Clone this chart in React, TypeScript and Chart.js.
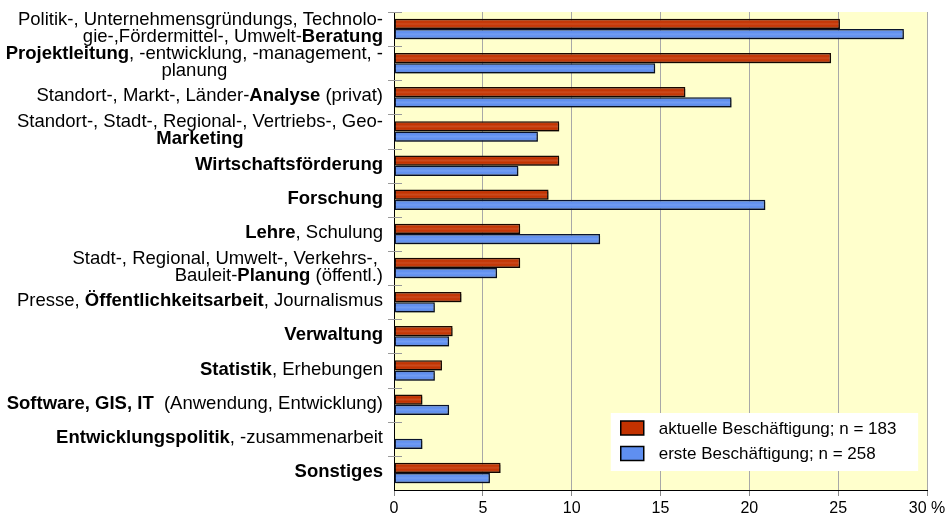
import React, { useEffect, useRef } from "react";
import { Chart, registerables } from "chart.js";

Chart.register(...registerables);

// Category labels: "|" separates lines, **...** marks bold text
const categories: string[] = [
  "Politik-, Unternehmensgründungs, Technolo-|gie-,Fördermittel-, Umwelt-**Beratung**",
  "**Projektleitung**, -entwicklung, -management, -|planung",
  "Standort-, Markt-, Länder-**Analyse** (privat)",
  "Standort-, Stadt-, Regional-, Vertriebs-, Geo-|**Marketing**",
  "**Wirtschaftsförderung**",
  "**Forschung**",
  "**Lehre**, Schulung",
  "Stadt-, Regional, Umwelt-, Verkehrs-, |Bauleit-**Planung** (öffentl.)",
  "Presse, **Öffentlichkeitsarbeit**, Journalismus",
  "**Verwaltung**",
  "**Statistik**, Erhebungen",
  "**Software, GIS, IT**  (Anwendung, Entwicklung)",
  "**Entwicklungspolitik**, -zusammenarbeit",
  "**Sonstiges**",
];
// labels whose lines are centred within their block
const centeredLabels: number[] = [1, 3];

const seriesLabels: string[] = [
  "aktuelle Beschäftigung; n = 183",
  "erste Beschäftigung; n = 258",
];
const aktuelle: number[] = [25.1, 24.6, 16.4, 9.3, 9.3, 8.7, 7.1, 7.1, 3.8, 3.3, 2.7, 1.6, 0, 6.0];
const erste: number[] = [28.7, 14.7, 19.0, 8.1, 7.0, 20.9, 11.6, 5.8, 2.3, 3.1, 2.3, 3.1, 1.6, 5.4];

const xTicks: number[] = [0, 5, 10, 15, 20, 25, 30];
const xUnit = " %";

const RED = "#C33200";
const BLUE = "#5F8FF0";
const FONT = '"Liberation Sans", Arial, sans-serif';

type Seg = { text: string; bold: boolean };
function parseLine(line: string): Seg[] {
  const parts = line.split("**");
  return parts
    .map((t, i) => ({ text: t, bold: i % 2 === 1 }))
    .filter((s) => s.text.length > 0);
}

const bgPlugin = {
  id: "plotBg",
  beforeDraw(chart: any) {
    const { ctx, chartArea } = chart;
    ctx.save();
    ctx.fillStyle = "#FFFFCC";
    ctx.fillRect(chartArea.left, chartArea.top, chartArea.right - chartArea.left, chartArea.bottom - chartArea.top);
    ctx.restore();
  },
};

const shadowPlugin = {
  id: "barShadow",
  beforeDatasetsDraw(chart: any) {
    const ctx = chart.ctx;
    ctx.save();
    ctx.shadowColor = "rgba(0,0,0,0.35)";
    ctx.shadowOffsetX = 2;
    ctx.shadowOffsetY = 2;
    ctx.shadowBlur = 0;
  },
  afterDatasetsDraw(chart: any) {
    const ctx = chart.ctx;
    ctx.restore();
    chart.data.datasets.forEach((_ds: any, di: number) => {
      const meta = chart.getDatasetMeta(di);
      meta.data.forEach((el: any) => {
        const p = el.getProps(["x", "y", "base", "height"], true);
        const left = Math.min(p.x, p.base) + 1;
        const right = Math.max(p.x, p.base) - 1;
        if (right - left < 1) return;
        const top = p.y - p.height / 2 + 1;
        const bottom = p.y + p.height / 2 - 1;
        const g = ctx.createLinearGradient(0, top, 0, bottom);
        g.addColorStop(0, "rgba(0,0,0,0.22)");
        g.addColorStop(0.25, "rgba(255,255,255,0.0)");
        g.addColorStop(0.5, "rgba(255,255,255,0.12)");
        g.addColorStop(0.75, "rgba(255,255,255,0.0)");
        g.addColorStop(1, "rgba(0,0,0,0.25)");
        ctx.save();
        ctx.fillStyle = g;
        ctx.fillRect(left, top, right - left, bottom - top);
        ctx.restore();
      });
    });
  },
};

const labelPlugin = {
  id: "catLabels",
  afterDraw(chart: any) {
    const { ctx, chartArea } = chart;
    const yScale = chart.scales.y;
    const size = 18.5;
    const lineH = 17;
    const rightX = chartArea.left - 11;
    ctx.save();
    ctx.fillStyle = "#000";
    ctx.textBaseline = "middle";
    ctx.textAlign = "left";
    const half = (yScale.getPixelForValue(1) - yScale.getPixelForValue(0)) / 2;
    ctx.strokeStyle = "#9A9A9A";
    ctx.lineWidth = 1;
    for (let i = 0; i < categories.length; i++) {
      const yb = Math.round(yScale.getPixelForValue(i) - half) + 0.5;
      ctx.beginPath();
      ctx.moveTo(chartArea.left - 6, yb);
      ctx.lineTo(chartArea.left + 8, yb);
      ctx.stroke();
    }
    categories.forEach((label, i) => {
      const lines = label.split("|").map(parseLine);
      const widths = lines.map((segs) =>
        segs.reduce((w, s) => {
          ctx.font = `${s.bold ? "bold " : ""}${size}px ${FONT}`;
          return w + ctx.measureText(s.text).width;
        }, 0)
      );
      const blockW = Math.max(...widths);
      const cy = yScale.getPixelForValue(i) - 1;
      const y0 = cy - ((lines.length - 1) * lineH) / 2;
      lines.forEach((segs, li) => {
        let x: number;
        if (centeredLabels.includes(i)) {
          x = rightX - blockW + (blockW - widths[li]) / 2;
        } else {
          x = rightX - widths[li];
        }
        const y = y0 + li * lineH;
        segs.forEach((s) => {
          ctx.font = `${s.bold ? "bold " : ""}${size}px ${FONT}`;
          ctx.fillText(s.text, x, y);
          x += ctx.measureText(s.text).width;
        });
      });
    });
    ctx.restore();
  },
};

const legendPlugin = {
  id: "innerLegend",
  afterDraw(chart: any) {
    const { ctx, chartArea } = chart;
    const xs = chart.scales.x;
    const bx = xs.getPixelForValue(12.2);
    const bRight = xs.getPixelForValue(29.5);
    const bTop = chartArea.bottom - 77;
    const bBottom = chartArea.bottom - 19;
    ctx.save();
    ctx.fillStyle = "#FFFFFF";
    ctx.fillRect(bx, bTop, bRight - bx, bBottom - bTop);
    const colors = [RED, BLUE];
    ctx.font = `17px ${FONT}`;
    ctx.textBaseline = "middle";
    seriesLabels.forEach((lab, i) => {
      const cy = bTop + 15 + i * 25.5;
      ctx.fillStyle = colors[i];
      ctx.fillRect(bx + 10, cy - 7, 23, 14);
      ctx.strokeStyle = "#000";
      ctx.lineWidth = 1.5;
      ctx.strokeRect(bx + 10, cy - 7, 23, 14);
      ctx.fillStyle = "#000";
      ctx.fillText(lab, bx + 48, cy + 1);
    });
    ctx.restore();
  },
};

export default function App() {
  const ref = useRef<HTMLCanvasElement | null>(null);
  useEffect(() => {
    if (!ref.current) return;
    const chart = new Chart(ref.current, {
      type: "bar",
      data: {
        labels: categories,
        datasets: [
          {
            label: seriesLabels[0],
            data: aktuelle,
            backgroundColor: RED,
            borderColor: "#1A0800",
            borderWidth: 1.5,
            borderSkipped: false,
          },
          {
            label: seriesLabels[1],
            data: erste,
            backgroundColor: BLUE,
            borderColor: "#0A1530",
            borderWidth: 1.5,
            borderSkipped: false,
          },
        ],
      },
      options: {
        indexAxis: "y",
        animation: false,
        responsive: false,
        maintainAspectRatio: false,
        layout: { padding: { top: 12, left: 0, right: 0, bottom: 0 } },
        datasets: { bar: { categoryPercentage: 0.6, barPercentage: 1.0 } },
        plugins: { legend: { display: false }, tooltip: { enabled: false } },
        scales: {
          x: {
            min: 0,
            max: 30,
            afterBuildTicks: (scale: any) => {
              scale.ticks = xTicks.map((v) => ({ value: v }));
            },
            afterFit: (scale: any) => {
              scale.height = 29;
              scale.paddingRight = 18;
            },
            ticks: {
              color: "#000",
              font: { family: FONT, size: 16 },
              padding: 3,
              maxRotation: 0,
              callback: (v: any) => (v === xTicks[xTicks.length - 1] ? `${v}${xUnit}` : `${v}`),
            },
            grid: {
              color: "#A8A8A8",
              lineWidth: 1,
              drawTicks: true,
              tickLength: 6,
              tickColor: "#888",
            },
            border: { display: true, color: "#000", width: 1 },
          },
          y: {
            afterFit: (scale: any) => {
              scale.width = 394;
            },
            ticks: { display: false },
            grid: { display: false, offset: true },
            border: { display: true, color: "#000", width: 1 },
          },
        },
      },
      plugins: [bgPlugin, shadowPlugin, labelPlugin, legendPlugin],
    } as any);
    return () => chart.destroy();
  }, []);
  return (
    <div style={{ position: "fixed", left: 0, top: 0, width: 945, height: 519, background: "#fff" }}>
      <canvas ref={ref} width={945} height={519} style={{ display: "block" }} />
    </div>
  );
}
